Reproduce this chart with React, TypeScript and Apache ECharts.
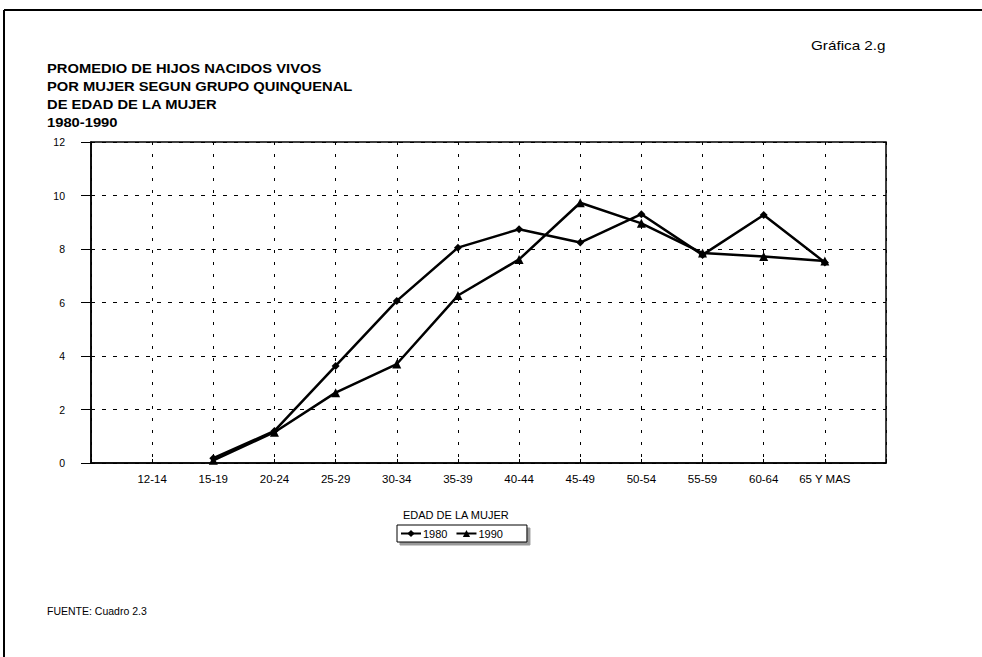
import React, { useEffect, useRef } from "react";
import * as echarts from "echarts";

const categories = ["12-14", "15-19", "20-24", "25-29", "30-34", "35-39", "40-44", "45-49", "50-54", "55-59", "60-64", "65 Y MAS"];
const values1980 = [null, 0.18, 1.2, 3.63, 6.06, 8.05, 8.74, 8.24, 9.3, 7.78, 9.27, 7.5];
const values1990 = [null, 0.1, 1.15, 2.63, 3.7, 6.26, 7.61, 9.73, 8.96, 7.85, 7.72, 7.55];
const titleLines = ["PROMEDIO DE HIJOS NACIDOS VIVOS", "POR MUJER SEGUN GRUPO QUINQUENAL", "DE EDAD DE LA MUJER", "1980-1990"];

const FONT = "'Liberation Sans', Arial, Helvetica, sans-serif";

export default function App() {
  const ref = useRef<HTMLDivElement>(null);
  useEffect(() => {
    document.body.style.margin = "0";
    const chart = echarts.init(ref.current!, null, { renderer: "svg" });
    const axisData = ["", ...categories, ""];
    const pad = (arr: (number | null)[]) => [null, ...arr, null];
    chart.setOption({
      animation: false,
      backgroundColor: "#fff",
      textStyle: { fontFamily: FONT, color: "#000" },
      grid: { left: 91, top: 142, right: 96, bottom: 194, show: true, borderColor: "#000", borderWidth: 1.5, backgroundColor: "transparent" },
      xAxis: {
        type: "category",
        data: axisData,
        boundaryGap: false,
        axisLine: { lineStyle: { color: "#000", width: 1.5 } },
        axisTick: { inside: true, length: 4, lineStyle: { color: "#000" } },
        axisLabel: { color: "#000", fontSize: 11.5, fontFamily: FONT, margin: 10, interval: 0 },
        splitLine: { show: true, lineStyle: { color: "#000", width: 1, type: [3, 9] } },
      },
      yAxis: {
        type: "value",
        min: 0,
        max: 12,
        interval: 2,
        axisLine: { show: true, lineStyle: { color: "#000", width: 1.5 } },
        axisTick: { show: true, length: 10, lineStyle: { color: "#000" } },
        axisLabel: { color: "#000", fontSize: 10.5, fontFamily: FONT, margin: 26 },
        splitLine: { show: true, lineStyle: { color: "#000", width: 1, type: [4, 7] } },
      },
      legend: {
        left: 397,
        top: 525,
        orient: "horizontal",
        itemWidth: 20,
        itemHeight: 9,
        itemGap: 8,
        padding: [3, 24, 3, 3],
        borderColor: "#000",
        borderWidth: 1,
        backgroundColor: "#fff",
        shadowColor: "rgba(0,0,0,0.4)",
        shadowOffsetX: 3,
        shadowOffsetY: 3,
        shadowBlur: 0,
        textStyle: { fontSize: 11, color: "#000", fontFamily: FONT, padding: [0, 0, 0, -3] },
        data: ["1980", "1990"],
      },
      graphic: [
        { type: "line", shape: { x1: 4, y1: 10, x2: 982, y2: 10 }, style: { stroke: "#000", lineWidth: 2 } },
        { type: "line", shape: { x1: 4, y1: 10, x2: 4, y2: 657 }, style: { stroke: "#000", lineWidth: 2 } },
        ...titleLines.map((t, i) => ({
          type: "text",
          x: 47,
          y: 62 + i * 18,
          scaleX: 1.18,
          style: { text: t, font: `bold 12.5px ${FONT}`, fill: "#000", verticalAlign: "top" },
        })),
        { type: "text", x: 811, y: 39, scaleX: 1.22, style: { text: "Gráfica 2.g", font: `12.5px ${FONT}`, fill: "#000", verticalAlign: "top" } },
        { type: "text", x: 403, y: 509, style: { text: "EDAD DE LA MUJER", font: `11px ${FONT}`, fill: "#000", verticalAlign: "top" } },
        { type: "text", x: 47, y: 607, scaleX: 1.05, style: { text: "FUENTE: Cuadro 2.3", font: `10px ${FONT}`, fill: "#000", verticalAlign: "top" } },
      ],
      series: [
        {
          name: "1980",
          type: "line",
          data: pad(values1980),
          symbol: "diamond",
          symbolSize: 8,
          lineStyle: { color: "#000", width: 2.5 },
          itemStyle: { color: "#000" },
          connectNulls: false,
        },
        {
          name: "1990",
          type: "line",
          data: pad(values1990),
          symbol: "triangle",
          symbolSize: 9,
          lineStyle: { color: "#000", width: 2.5 },
          itemStyle: { color: "#000" },
          connectNulls: false,
        },
      ],
    });
    return () => chart.dispose();
  }, []);
  return <div ref={ref} style={{ width: 982, height: 657 }} />;
}
